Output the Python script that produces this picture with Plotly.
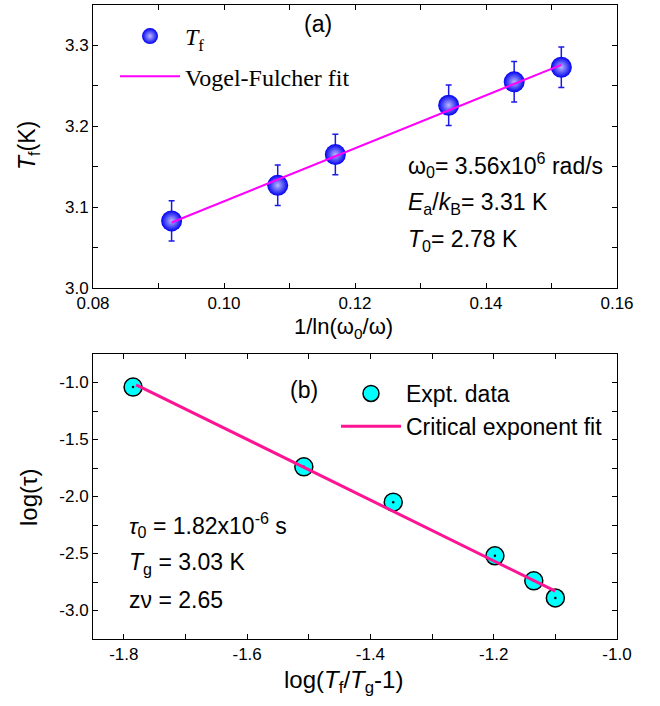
import plotly.graph_objects as go

# ---------- data panel (a) ----------
a_x = [0.0920, 0.1082, 0.1170, 0.1343, 0.1443, 0.1515]
a_y = [3.083, 3.127, 3.165, 3.226, 3.255, 3.273]
a_err = [0.025, 0.025, 0.025, 0.025, 0.025, 0.025]
a_fit_x = [0.0920, 0.1515]
a_fit_y = [3.081, 3.276]

# ---------- data panel (b) ----------
b_x = [-1.785, -1.508, -1.363, -1.198, -1.135, -1.100]
b_y = [-1.04, -1.74, -2.05, -2.52, -2.74, -2.89]
b_fit_x = [-1.780, -1.100]
b_fit_y = [-1.02, -2.83]

a_xticks = [0.08, 0.10, 0.12, 0.14, 0.16]
a_xticktext = ["0.08", "0.10", "0.12", "0.14", "0.16"]
a_yticks = [3.0, 3.1, 3.2, 3.3]
a_yticktext = ["3.0", "3.1", "3.2", "3.3"]
b_xticks = [-1.8, -1.6, -1.4, -1.2, -1.0]
b_xticktext = ["-1.8", "-1.6", "-1.4", "-1.2", "-1.0"]
b_yticks = [-1.0, -1.5, -2.0, -2.5, -3.0]
b_yticktext = ["-1.0", "-1.5", "-2.0", "-2.5", "-3.0"]

W, H = 660, 706
SANS = "Liberation Sans, Arial, sans-serif"
SERIF = "Liberation Serif, Times New Roman, serif"

fig = go.Figure()

fig.add_trace(go.Scatter(
    x=a_x, y=a_y, mode="markers", name="<i>T</i><sub>f</sub>",
    error_y=dict(type="data", array=a_err, color="#1A1AE6", thickness=1.5, width=3),
    marker=dict(size=21, color="#0000F0", symbol="circle",
                gradient=dict(type="radial", color="#B8B8FF"),
                line=dict(width=0)),
    xaxis="x", yaxis="y", legend="legend", legendgroup="g1"))
fig.add_trace(go.Scatter(
    x=a_fit_x, y=a_fit_y, mode="lines", name="Vogel-Fulcher fit",
    line=dict(color="#FF00FF", width=2), xaxis="x", yaxis="y",
    legend="legend", legendgroup="g2"))

fig.add_trace(go.Scatter(
    x=b_x, y=b_y, mode="markers", name="Expt. data",
    marker=dict(size=18, color="#00FFFF", line=dict(color="black", width=1.5)),
    xaxis="x2", yaxis="y2", legend="legend2"))
fig.add_trace(go.Scatter(
    x=b_x, y=b_y, mode="markers", showlegend=False,
    marker=dict(size=2.5, color="black"), xaxis="x2", yaxis="y2"))
fig.add_trace(go.Scatter(
    x=b_fit_x, y=b_fit_y, mode="lines", name="Critical exponent fit",
    line=dict(color="#FF1493", width=3), xaxis="x2", yaxis="y2", legend="legend2"))

common = dict(showline=True, linecolor="black", linewidth=1, mirror="allticks",
              ticks="inside", ticklen=5, tickwidth=1, tickcolor="black",
              showgrid=False, zeroline=False, automargin=False,
              tickfont=dict(family=SANS, size=17, color="black"))
minor = dict(ticks="inside", ticklen=5, tickwidth=1, tickcolor="black", showgrid=False)

fig.update_layout(
    width=W, height=H, margin=dict(l=0, r=0, t=0, b=0, autoexpand=False),
    paper_bgcolor="white", plot_bgcolor="white",
    xaxis=dict(domain=[93/W, 617/W], range=[0.08, 0.16], anchor="y",
               tickvals=a_xticks, ticktext=a_xticktext,
               minor=dict(dtick=0.01, **minor), **common),
    yaxis=dict(domain=[1-288/H, 1-5/H], range=[3.0, 3.35], anchor="x",
               tickvals=a_yticks, ticktext=a_yticktext,
               minor=dict(dtick=0.05, tick0=3.0, **minor), **common),
    xaxis2=dict(domain=[93/W, 617/W], range=[-1.85, -1.0], anchor="y2",
                tickvals=b_xticks, ticktext=b_xticktext,
                minor=dict(dtick=0.1, tick0=-1.8, **minor), **common),
    yaxis2=dict(domain=[1-639/H, 1-354/H], range=[-3.25, -0.75], anchor="x2",
                tickvals=b_yticks, ticktext=b_yticktext,
                minor=dict(dtick=0.25, tick0=-1.0, **minor), **common),
    legend=dict(x=115/W, y=1-14/H, xanchor="left", yanchor="top",
                bgcolor="rgba(0,0,0,0)", font=dict(family=SERIF, size=24, color="black"),
                itemsizing="trace", itemwidth=60, tracegroupgap=6, traceorder="grouped"),
    legend2=dict(x=336/W, y=1-372/H, xanchor="left", yanchor="top",
                 bgcolor="rgba(0,0,0,0)", font=dict(family=SANS, size=23, color="black"),
                 itemsizing="trace", itemwidth=60),
    showlegend=True,
)

ann = []
def A(x, y, text, size=23, family=SANS, angle=0, xanchor="left"):
    ann.append(dict(x=x/W, y=1-y/H, xref="paper", yref="paper", text=text,
                    showarrow=False, xanchor=xanchor, yanchor="middle",
                    textangle=angle, font=dict(family=family, size=size, color="black")))

A(318, 24, "(a)", xanchor="center")
A(406, 165, "ω<sub>0</sub>= 3.56x10<sup>6</sup> rad/s")
A(406, 203, "<i>E</i><sub>a</sub>/<i>k</i><sub>B</sub>= 3.31 K")
A(406, 240, "<i>T</i><sub>0</sub>= 2.78 K")
A(343, 328, "1/ln(ω<sub>0</sub>/ω)", size=22, xanchor="center")
A(28, 146, "<i>T</i><sub>f</sub>(K)", size=23, angle=-90, xanchor="center")

A(304, 390, "(b)", xanchor="center")
A(127, 525, "<i>τ</i><sub>0</sub> = 1.82x10<sup>-6</sup> s")
A(127, 563, "<i>T</i><sub>g</sub> = 3.03 K")
A(127, 600, "zν = 2.65")
A(343, 681, "log(<i>T</i><sub>f</sub>/<i>T</i><sub>g</sub>-1)", size=24, xanchor="center")
A(28, 497, "log(τ)", size=24, angle=-90, xanchor="center")

fig.update_layout(annotations=ann)
fig.write_html("out.html", config={"displayModeBar": False},
               post_script="document.body.style.margin='0';document.body.style.overflow='hidden';")
